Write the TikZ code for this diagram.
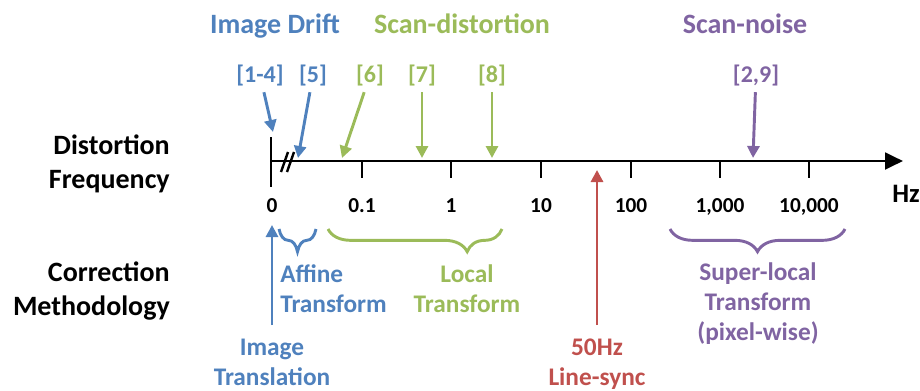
\documentclass[tikz,border=0pt]{standalone}
\usepackage{fontspec}
\setmainfont{Carlito}
\usepackage{tikz}
\usetikzlibrary{arrows.meta,decorations.pathreplacing}
\definecolor{colordrift} {RGB}{ 79,129,189}
\definecolor{colorscan}  {RGB}{155,187, 89}
\definecolor{colornoise} {RGB}{128,100,162}
\definecolor{colorsync}  {RGB}{192, 80, 77}
\definecolor{colortext}  {RGB}{  0,  0,  0}

\begin{document}
\begin{tikzpicture}[
    x=0.75pt, y=-0.75pt,
    base/.style={text=colortext,font={\fontsize{21}{25.5}\selectfont\bfseries},inner sep=0pt,align=right},
    title/.style={font={\fontsize{21}{25}\selectfont\bfseries},inner sep=0pt,anchor=base},
    ref/.style={font={\fontsize{18}{22}\selectfont\bfseries},inner sep=0pt,anchor=base,outer sep=5pt},
    tick/.style={text=colortext,font={\fontsize{16}{19}\selectfont\bfseries},inner sep=0pt,anchor=base},
    method/.style={font={\fontsize{19}{22.5}\selectfont\bfseries},inner sep=0pt,align=center,anchor=base},
    pointer/.style={line width=2.2pt,-{Triangle[length=9pt,width=9pt]}},
    bracket/.style={line width=2.2pt,decorate,decoration={brace,mirror,amplitude=17pt}},
    axis/.style={line width=2.2pt,colortext},
]
    \useasboundingbox (0,0) rectangle (920,390);

    \node[base,anchor=base east] (freq)   at (170,188) {Distortion\\Frequency};
    \node[base,anchor=base east] (method) at (170,315) {Correction\\Methodology};

    \draw[axis,-{Triangle[length=13.5pt,width=12.5pt]}] (271,161) coordinate (origin) -- (903,161) coordinate (axisend);
    \draw[axis] (271,137) -- (271,187);
    \draw[axis,line width=1.8pt] (281,172) -- (288,152) (287,172) -- (294,152);
    \node[font={\fontsize{20}{24}\selectfont\bfseries},inner sep=0pt,anchor=base] (hz) at (906,202) {Hz};

    \node[tick] (lab0) at (272,212) {0};
    \foreach \x/\lab [count=\i] in {362/0.1,451/1,541/10,631/100,720/{1,000},809/{10,000}}{
        \draw[axis] (\x,161) -- (\x,178);
        \node[tick] (lab\i) at (\x,212) {\lab};
    }

    \node[title,text=colordrift] (drift) at (275,33) {Image Drift};
    \node[title,text=colorscan]  (scan)  at (462,33) {Scan-distortion};
    \node[title,text=colornoise] (noise) at (745,33) {Scan-noise};

    \node[ref,text=colordrift] (r14) at (260,82) {[1-4]};
    \node[ref,text=colordrift] (r5)  at (313,82) {[5]};
    \node[ref,text=colorscan]  (r6)  at (370,82) {[6]};
    \node[ref,text=colorscan]  (r7)  at (422,82) {[7]};
    \node[ref,text=colorscan]  (r8)  at (492,82) {[8]};
    \node[ref,text=colornoise] (r29) at (756,82) {[2,9]};

    \coordinate (t14) at (273,132);
    \coordinate (t5)  at (298,158);
    \coordinate (t6)  at (342,158);
    \coordinate (t7)  at (422,158);
    \coordinate (t8)  at (492,158);
    \coordinate (t29) at (753,158);
    \coordinate (tsync)  at (597,170);
    \coordinate (ttrans) at (272,225);

    \draw[pointer,colordrift] (r14) -- (t14);
    \draw[pointer,colordrift] (r5)  -- (t5);
    \draw[pointer,colorscan]  (r6)  -- (t6);
    \draw[pointer,colorscan]  (r7)  -- (t7);
    \draw[pointer,colorscan]  (r8)  -- (t8);
    \draw[pointer,colornoise] (r29) -- (t29);

    \draw[bracket,colordrift] (279,229) -- (316,229);
    \draw[bracket,colorscan,decoration={aspect=0.8}] (328,229) -- (502,229);
    \draw[bracket,colornoise] (670,229) -- (845,229);

    \node[method,text=colordrift,align=left,anchor=base west] (affine) at (280,312) {Affine\\Transform};
    \node[method,text=colorscan]  (local)      at (467,312) {Local\\Transform};
    \node[method,text=colornoise] (superlocal) at (758,340) {Super-local\\Transform\\(pixel-wise)};
    \node[method,text=colorsync,outer sep=10pt]  (linesync)    at (597,385) {50Hz\\Line-sync};
    \node[method,text=colordrift,outer sep=10pt] (translation) at (272,385) {Image\\Translation};

    \draw[pointer,colorsync]  (linesync)    -- (tsync);
    \draw[pointer,colordrift] (translation) -- (ttrans);
\end{tikzpicture}
\end{document}
